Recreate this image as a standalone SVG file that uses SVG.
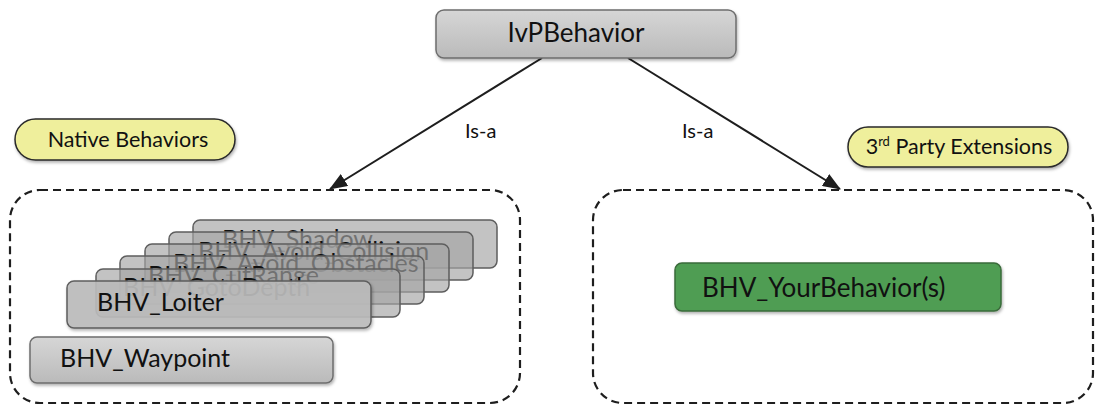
<svg xmlns="http://www.w3.org/2000/svg" width="1095" height="406" viewBox="0 0 1095 406">
<style>
  .lbl { font-family: Lato, "Liberation Sans", sans-serif; fill: #111; }
  .box { font-size: 25px; }
  .stk { fill: #a4a4a4; fill-opacity: 0.66; stroke: #5e5e5e; stroke-width: 1.5; }
  .front { fill: #bcbcbc; fill-opacity: 0.9; stroke: #5e5e5e; stroke-width: 1.5; }
  .pill { fill: #efef9c; stroke: #2a2a2a; stroke-width: 1.5; }
  .dash { fill: none; stroke: #1e1e1e; stroke-width: 2.2; stroke-dasharray: 8 5; }
  .conn { fill: none; stroke: #1e1e1e; stroke-width: 2; }
</style>
<defs>
  <linearGradient id="gray" x1="0" y1="0" x2="0" y2="1">
    <stop offset="0" stop-color="#d6d6d6"/>
    <stop offset="1" stop-color="#bababa"/>
  </linearGradient>
  <filter id="sh" x="-10%" y="-20%" width="130%" height="160%">
    <feDropShadow dx="1" dy="2" stdDeviation="1.5" flood-color="#000" flood-opacity="0.3"/>
  </filter>
  <marker id="arr" viewBox="0 0 18 14" refX="17" refY="7" markerWidth="18" markerHeight="14" markerUnits="userSpaceOnUse" orient="auto">
    <path d="M0,0 L18,7 L0,14 z" fill="#1e1e1e"/>
  </marker>
</defs>
<rect width="1095" height="406" fill="#fff"/>

<g id="native-container">
  <rect class="dash" x="10" y="190" width="510" height="213" rx="30"/>
</g>
<g id="extensions-container">
  <rect class="dash" x="593" y="190" width="500" height="213" rx="30"/>
</g>

<g id="connectors">
  <path class="conn" d="M542,58 L330,189" marker-end="url(#arr)"/>
  <path class="conn" d="M628,58 L840,189" marker-end="url(#arr)"/>
  <text class="lbl" x="465" y="138" font-size="20">Is-a</text>
  <text class="lbl" x="682" y="138" font-size="20">Is-a</text>
</g>

<g id="ivpbehavior">
  <rect x="436" y="10" width="300" height="48" rx="8" fill="url(#gray)" stroke="#6e6e6e" stroke-width="1.5" filter="url(#sh)"/>
  <text class="lbl" x="576" y="42" font-size="26" text-anchor="middle">IvPBehavior</text>
</g>

<g id="native-behaviors-label">
  <rect class="pill" x="15" y="119" width="220" height="41" rx="20.5" filter="url(#sh)"/>
  <text class="lbl" x="128" y="147" font-size="21.5" text-anchor="middle">Native Behaviors</text>
</g>

<g id="third-party-label">
  <rect class="pill" x="848" y="127" width="220" height="40" rx="20" filter="url(#sh)"/>
  <text class="lbl" x="959" y="154" font-size="21.5" text-anchor="middle">3<tspan font-size="13" dy="-8">rd</tspan><tspan dy="8"> Party Extensions</tspan></text>
</g>

<g id="bhv-shadow">
  <rect class="stk" x="193" y="220" width="304" height="48" rx="7"/>
  <text class="lbl box" x="222" y="248">BHV_Shadow</text>
</g>
<g id="bhv-avoid-collision">
  <rect class="stk" x="169" y="232" width="304" height="48" rx="7"/>
  <text class="lbl box" x="198" y="260">BHV_Avoid_Collision</text>
</g>
<g id="bhv-avoid-obstacles">
  <rect class="stk" x="145" y="244" width="304" height="48" rx="7"/>
  <text class="lbl box" x="173" y="272">BHV_Avoid_Obstacles</text>
</g>
<g id="bhv-cutrange">
  <rect class="stk" x="120" y="256" width="304" height="48" rx="7"/>
  <text class="lbl box" x="148" y="284">BHV_CutRange</text>
</g>
<g id="bhv-gotodepth">
  <rect class="stk" x="96" y="269" width="304" height="48" rx="7"/>
  <text class="lbl box" x="123" y="296">BHV_GotoDepth</text>
</g>
<g id="bhv-loiter">
  <rect class="front" x="67" y="281" width="304" height="47" rx="7" filter="url(#sh)"/>
  <text class="lbl box" x="97" y="311">BHV_Loiter</text>
</g>
<g id="bhv-waypoint">
  <rect x="30" y="337" width="303" height="46" rx="7" fill="url(#gray)" stroke="#6e6e6e" stroke-width="1.5" filter="url(#sh)"/>
  <text class="lbl box" x="60" y="367">BHV_Waypoint</text>
</g>

<g id="bhv-yourbehaviors">
  <rect x="675" y="263" width="326" height="48" rx="7" fill="#4f9d52" stroke="#3a6b3b" stroke-width="1.5" filter="url(#sh)"/>
  <text class="lbl" x="702" y="297" font-size="26">BHV_YourBehavior(s)</text>
</g>
</svg>
